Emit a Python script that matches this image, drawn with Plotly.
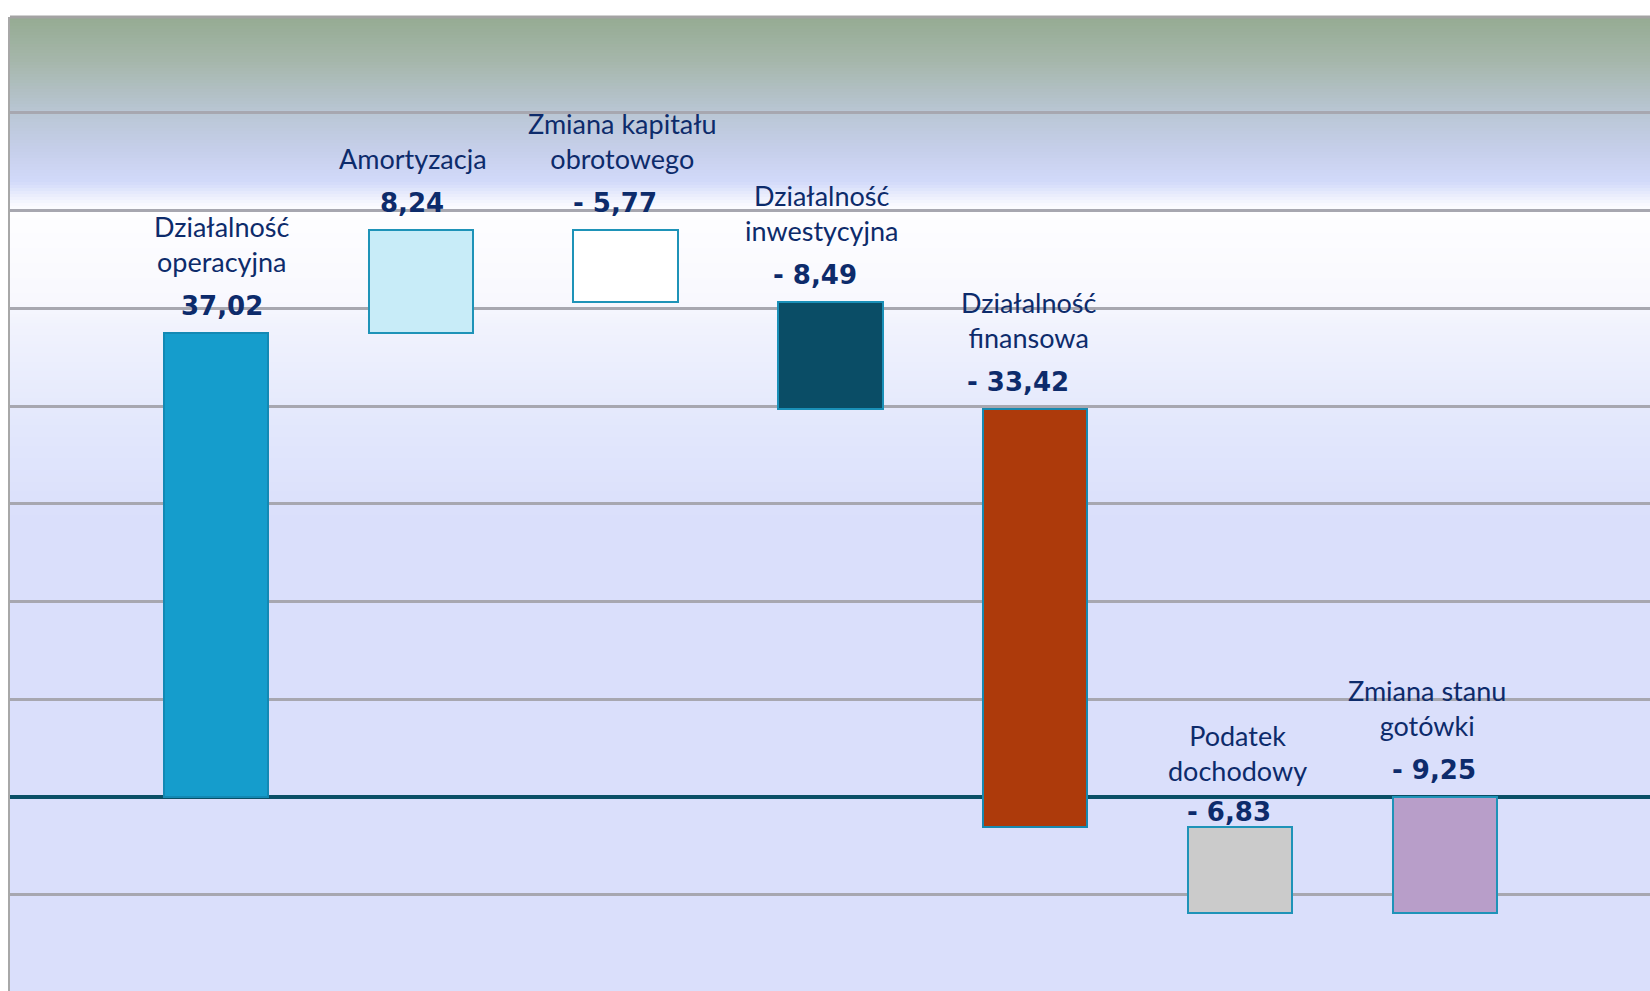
import plotly.graph_objects as go

# ---------------- data ----------------
categories = ["Działalność<br>operacyjna", "Amortyzacja", "Zmiana kapitału<br>obrotowego",
              "Działalność<br>inwestycyjna", "Działalność<br>finansowa", "Podatek<br>dochodowy",
              "Zmiana stanu<br>gotówki"]
values = [37.02, 8.24, -5.77, -8.49, -33.42, -6.83, -9.25]
measures = ["relative", "relative", "relative", "relative", "relative", "relative", "total"]

# ---------------- styling ----------------
fill_colors = ["#159dcc", "#c8ecf8", "#ffffff", "#0a4d66", "#ad3a0b", "#cbcbcb", "#b89ec9"]
line_colors = ["#1389b4", "#1e93b8", "#1e93b8", "#1a90b8", "#1789b0", "#1e93b8", "#1e93b8"]
name_xshift = [6, -8, -3, -9, -6, -3, -18]
value_xshift = [6, -9, -11, -15, -17, -11, -11]
name_yshift = [53, 53, 53, 53, 53, 38, 53]
value_yshift = [27, 27, 27, 27, 27, 15, 27]
TEXT = "#0d2b6b"

# waterfall bases
bases = []
run = 0.0
for v, m in zip(values, measures):
    if m == "total":
        bases.append(0.0)
    else:
        bases.append(run)
        run += v

xs = list(range(len(values)))

fig = go.Figure()
fig.add_trace(go.Bar(
    x=xs, y=values, base=bases, width=0.51,
    marker=dict(color=fill_colors, line=dict(color=line_colors, width=2)),
    hoverinfo="skip", showlegend=False,
))

# gradient background (plot area spans pixel rows 17..991)
stops = [
    (17, (149, 171, 146)), (60, (165, 182, 170)), (112, (185, 198, 212)),
    (150, (198, 207, 234)), (182, (210, 218, 250)),
    (196, (235, 238, 252)), (206, (250, 250, 255)), (211, (254, 254, 255)),
    (300, (248, 248, 254)), (330, (240, 242, 253)), (430, (226, 231, 252)),
    (520, (218, 223, 251)), (991, (218, 223, 251)),
]

def col_at(py):
    for (a, ca), (b, cb) in zip(stops[:-1], stops[1:]):
        if a <= py <= b:
            t = (py - a) / (b - a) if b > a else 0
            return tuple(round(ca[k] + (cb[k] - ca[k]) * t) for k in range(3))
    return stops[-1][1]

shapes = []
top_px, bot_px = 17, 991
h = bot_px - top_px
step = 3
py = top_px
while py < bot_px:
    c = col_at(py + step / 2)
    y1 = 1 - (py - top_px) / h
    y0 = 1 - (min(py + step, bot_px) - top_px) / h
    shapes.append(dict(type="rect", xref="paper", yref="paper", x0=0, x1=1, y0=y0 - 0.0005, y1=y1,
                       fillcolor="rgb(%d,%d,%d)" % c, line=dict(width=0), layer="below"))
    py += step
# top border
shapes.append(dict(type="line", xref="paper", yref="paper", x0=0, x1=1, y0=1, y1=1,
                   line=dict(color="#a3a3a3", width=3)))

annotations = []
for i, (cat, v, b) in enumerate(zip(categories, values, bases)):
    top = max(b, b + v)
    txt = ("- " if v < 0 else "") + f"{abs(v):.2f}".replace(".", ",")
    annotations.append(dict(x=i, y=top, xref="x", yref="y", text="<b>" + txt + "</b>",
                            showarrow=False, yanchor="middle", yshift=value_yshift[i],
                            xshift=value_xshift[i],
                            font=dict(family="DejaVu Sans", size=26, color=TEXT)))
    annotations.append(dict(x=i, y=top, xref="x", yref="y", text=cat,
                            showarrow=False, yanchor="bottom", yshift=name_yshift[i],
                            xshift=name_xshift[i],
                            font=dict(family="Lato", size=27, color=TEXT)))

fig.update_layout(
    width=1650, height=991,
    margin=dict(l=10, r=0, t=17, b=0),
    paper_bgcolor="white", plot_bgcolor="rgba(0,0,0,0)",
    shapes=shapes, annotations=annotations,
    xaxis=dict(range=[-1.006, 7.002], showgrid=False, zeroline=False, showticklabels=False,
               ticks="", showline=False, fixedrange=True),
    yaxis=dict(range=[-15.48, 62.25], tick0=0, dtick=7.8, showgrid=True, gridcolor="#a7a7b0",
               gridwidth=2.5, zeroline=True, zerolinecolor="#0a4f66", zerolinewidth=3.5,
               showticklabels=False, ticks="", showline=True, linecolor="#a8a8a8", linewidth=2,
               fixedrange=True),
    bargap=0,
)

fig.write_html("out.html", config={"displayModeBar": False},
               post_script="document.body.style.margin='0';document.body.style.overflow='hidden';")
